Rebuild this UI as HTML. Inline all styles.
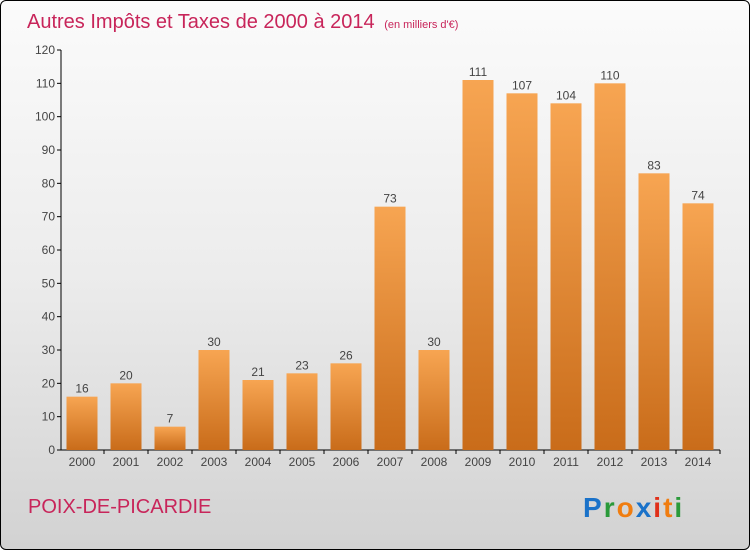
<!DOCTYPE html>
<html><head><meta charset="utf-8"><style>
html,body{margin:0;padding:0}
body{width:750px;height:550px;overflow:hidden;font-family:"Liberation Sans",sans-serif}
#frame{position:absolute;left:0;top:0;width:748px;height:548px;border:1px solid #000;border-radius:6px;background:linear-gradient(#fbfbfb 0%,#ececec 50%,#d2d2d2 100%)}
</style></head><body>
<div id="frame">
<svg width="750" height="550" style="position:absolute;left:-1px;top:-1px" id="chart">
<defs><linearGradient id="bg" x1="0" y1="0" x2="0" y2="1"><stop offset="0" stop-color="#f7a552"/><stop offset="1" stop-color="#c96c1a"/></linearGradient></defs>
<text x="27" y="28" font-size="20" fill="#c8255a">Autres Impôts et Taxes de 2000 à 2014 <tspan font-size="11" dx="4">(en milliers d'€)</tspan></text>
<text x="28" y="513" font-size="20" fill="#c8255a">POIX-DE-PICARDIE</text>
<g font-size="28" font-weight="bold" font-family="Liberation Sans, sans-serif">
<text x="583" y="517" fill="#1a72c9" letter-spacing="2">P<tspan fill="#2a9a3a">r</tspan><tspan fill="#f07d10">o</tspan><tspan fill="#1a72c9">x</tspan><tspan fill="#e0301a">i</tspan><tspan fill="#f07d10">t</tspan><tspan fill="#2a9a3a">i</tspan></text>
</g>
<g id="axes"></g><g id="bars"></g>
</svg></div>
<script>
const categories=["2000","2001","2002","2003","2004","2005","2006","2007","2008","2009","2010","2011","2012","2013","2014"];
const values=[16,20,7,30,21,23,26,73,30,111,107,104,110,83,74];
const yTicks=[0,10,20,30,40,50,60,70,80,90,100,110,120];
const NS="http://www.w3.org/2000/svg";
const y0=450,yTop=50,yMax=120,x0=82,step=44,bw=31;
const Y=v=>y0-(v/yMax)*(y0-yTop);
const X=i=>x0+i*step;
function mk(t,a,p){const e=document.createElementNS(NS,t);for(const k in a)e.setAttribute(k,a[k]);p.appendChild(e);return e;}
const ax=document.getElementById('axes'),bs=document.getElementById('bars');
const yl=mk('line',{x1:61,y1:yTop,x2:61,y2:y0,stroke:'#000'},ax);


const xl=mk('line',{x1:61,y1:y0,x2:720,y2:y0,stroke:'#000'},ax);


yTicks.forEach(t=>{
 mk('line',{x1:57,y1:Y(t),x2:61,y2:Y(t),stroke:'#000'},ax);
 const tx=mk('text',{x:55,y:Y(t)+4,'font-size':12,'text-anchor':'end',fill:'#444'},ax);
 tx.textContent=t;
 
 
});
categories.forEach((c,i)=>{
 const cx=X(i);
 mk('line',{x1:cx+22,y1:y0,x2:cx+22,y2:y0+4,stroke:'#000'},ax);
 const tl=mk('text',{x:cx,y:y0+16,'font-size':12,'text-anchor':'middle',fill:'#444'},ax);
 tl.textContent=c;
 
 
 const r=mk('rect',{x:cx-bw/2,y:Y(values[i]),width:bw,height:y0-Y(values[i]),fill:'url(#bg)'},bs);
 
 
 const vl=mk('text',{x:cx,y:Y(values[i])-4,'font-size':12,'text-anchor':'middle',fill:'#444'},bs);
 vl.textContent=values[i];
 
 
});
</script>
</body></html>
